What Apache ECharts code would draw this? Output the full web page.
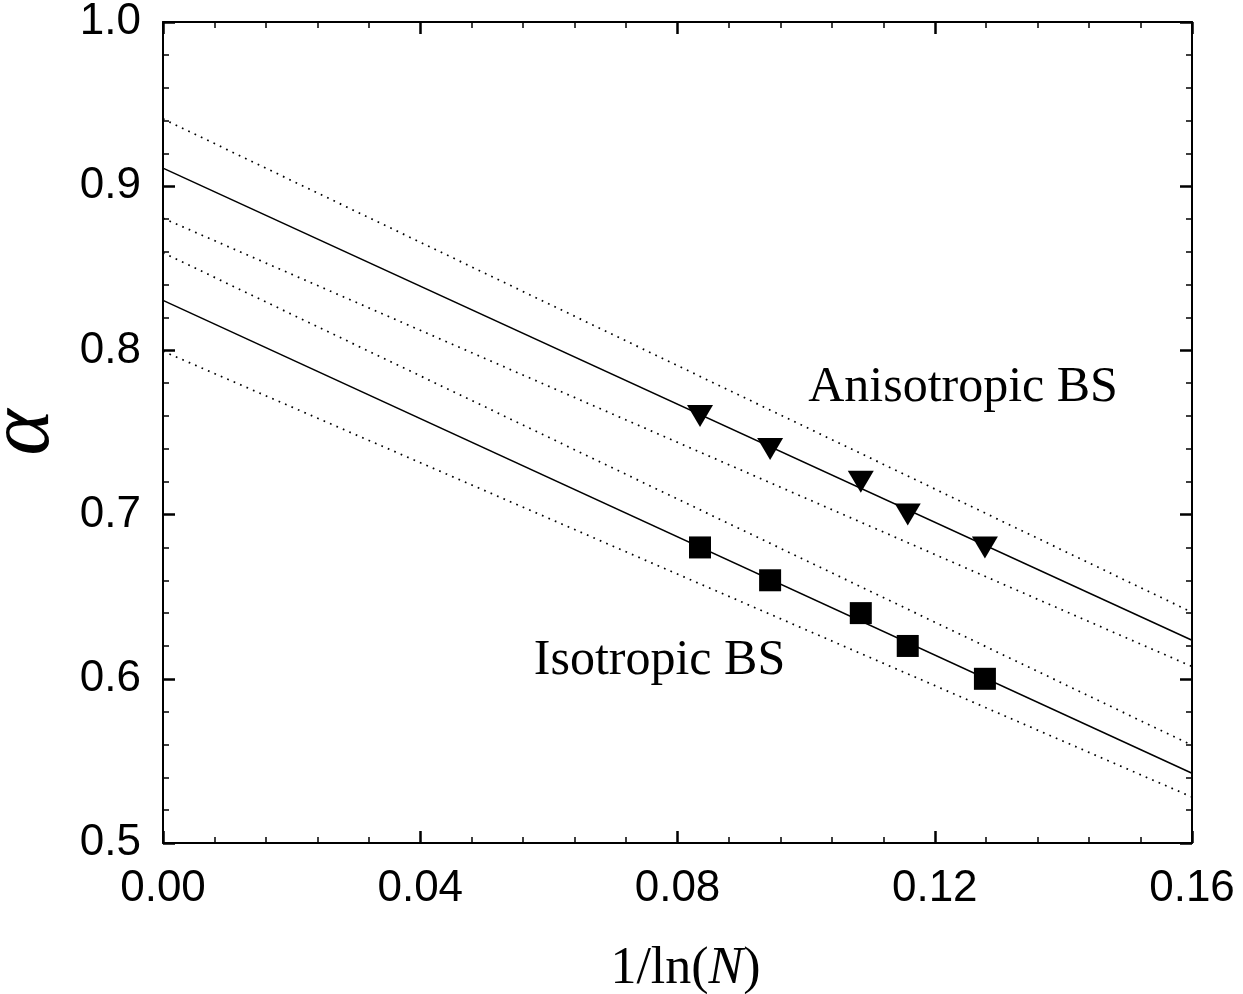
<!DOCTYPE html>
<html><head><meta charset="utf-8">
<script src="https://cdn.jsdelivr.net/npm/echarts@6/dist/echarts.min.js"></script>
<style>html,body{margin:0;padding:0;background:#fff}#c{width:1243px;height:994px}</style>
</head><body><div id="c"></div>
<script>
// Data
const xAniso = [0.0835, 0.0944, 0.1085, 0.1158, 0.1278];
const yAniso = [0.76, 0.74, 0.72, 0.70, 0.68];
const xIso = [0.0835, 0.0944, 0.1085, 0.1158, 0.1278];
const yIso = [0.68, 0.66, 0.64, 0.62, 0.60];
// fit lines: values at x = 0 and x = 0.16
const fitAnisoX = [0, 0.16];
const fitAniso = [0.911, 0.6235];
const fitAnisoUp = [0.941, 0.6405];
const fitAnisoLo = [0.8805, 0.6075];
const fitIsoX = [0, 0.16];
const fitIso = [0.8305, 0.5425];
const fitIsoUp = [0.8595, 0.5595];
const fitIsoLo = [0.7995, 0.528];
const labelsText = ['Anisotropic BS', 'Isotropic BS'];
const labelsX = [0.1244, 0.0772];
const labelsY = [0.777, 0.611];
const xTicks = [0, 0.04, 0.08, 0.12, 0.16];
const yTicks = [0.5, 0.6, 0.7, 0.8, 0.9, 1.0];

const zip = (xs, ys) => xs.map((x, i) => [x, ys[i]]);
const chart = echarts.init(document.getElementById('c'));
const serif = '"Liberation Serif", "DejaVu Serif", serif';
const sans = '"Liberation Sans", Arial, sans-serif';

function axisCommon() {
  return {
    axisLine: { show: true, onZero: false, lineStyle: { color: '#000', width: 2 } },
    axisTick: { show: true, inside: true, length: 12, lineStyle: { color: '#000', width: 2.5 } },
    minorTick: { show: true, splitNumber: 5, length: 6, lineStyle: { color: '#000', width: 1.5 } },
    splitLine: { show: false },
    minorSplitLine: { show: false },
    axisLabel: { show: false }
  };
}

function line(xs, ys, dotted) {
  return {
    type: 'line', data: zip(xs, ys), symbol: 'none', silent: true,
    lineStyle: { color: '#000', width: dotted ? 1.7 : 1.5, type: dotted ? [1.7, 5.3] : 'solid', opacity: 1 },
    z: 2
  };
}

chart.setOption({
  animation: false,
  backgroundColor: '#fff',
  grid: { left: 163, right: 51, top: 22, bottom: 151, containLabel: false, outerBoundsMode: 'none' },
  xAxis: [
    Object.assign(axisCommon(), {
      type: 'value', min: xTicks[0], max: xTicks[xTicks.length - 1], interval: 0.04, position: 'bottom',
      axisLabel: { show: true, color: '#000', fontSize: 44, fontFamily: sans, margin: 24,
        formatter: v => v.toFixed(2) },
      name: '{a|1/ln(}{b|N}{a|)}', nameLocation: 'middle', nameGap: 100,
      nameTextStyle: { padding: [0, 0, 0, 16], rich: {
        a: { fontFamily: serif, fontSize: 52, color: '#000' },
        b: { fontFamily: serif, fontSize: 52, fontStyle: 'italic', color: '#000' } } }
    }),
    Object.assign(axisCommon(), {
      type: 'value', min: xTicks[0], max: xTicks[xTicks.length - 1], interval: 0.04, position: 'top'
    })
  ],
  yAxis: [
    Object.assign(axisCommon(), {
      type: 'value', min: yTicks[0], max: yTicks[yTicks.length - 1], interval: 0.1, position: 'left',
      axisLabel: { show: true, color: '#000', fontSize: 44, fontFamily: sans, margin: 22,
        formatter: v => v.toFixed(1) },
      name: 'α', nameLocation: 'middle', nameGap: 91,
      nameTextStyle: { fontFamily: serif, fontSize: 88, fontStyle: 'italic', color: '#000' }
    }),
    Object.assign(axisCommon(), {
      type: 'value', min: yTicks[0], max: yTicks[yTicks.length - 1], interval: 0.1, position: 'right'
    })
  ],
  series: [
    line(fitAnisoX, fitAniso, false),
    line(fitAnisoX, fitAnisoUp, true),
    line(fitAnisoX, fitAnisoLo, true),
    line(fitIsoX, fitIso, false),
    line(fitIsoX, fitIsoUp, true),
    line(fitIsoX, fitIsoLo, true),
    { type: 'scatter', data: zip(xAniso, yAniso), symbol: 'triangle', symbolRotate: 180,
      symbolSize: [26, 22], itemStyle: { color: '#000', opacity: 1 }, z: 5 },
    { type: 'scatter', data: zip(xIso, yIso), symbol: 'rect',
      symbolSize: [22, 22], itemStyle: { color: '#000', opacity: 1 }, z: 5 },
    { type: 'scatter', symbolSize: 0, silent: true,
      itemStyle: { opacity: 1 },
      data: labelsText.map((t, i) => ({ value: [labelsX[i], labelsY[i]], name: t })),
      label: { show: true, position: 'inside', formatter: p => p.name, opacity: 1,
        fontFamily: serif, fontSize: 50, color: '#000' } }
  ]
});
</script></body></html>
